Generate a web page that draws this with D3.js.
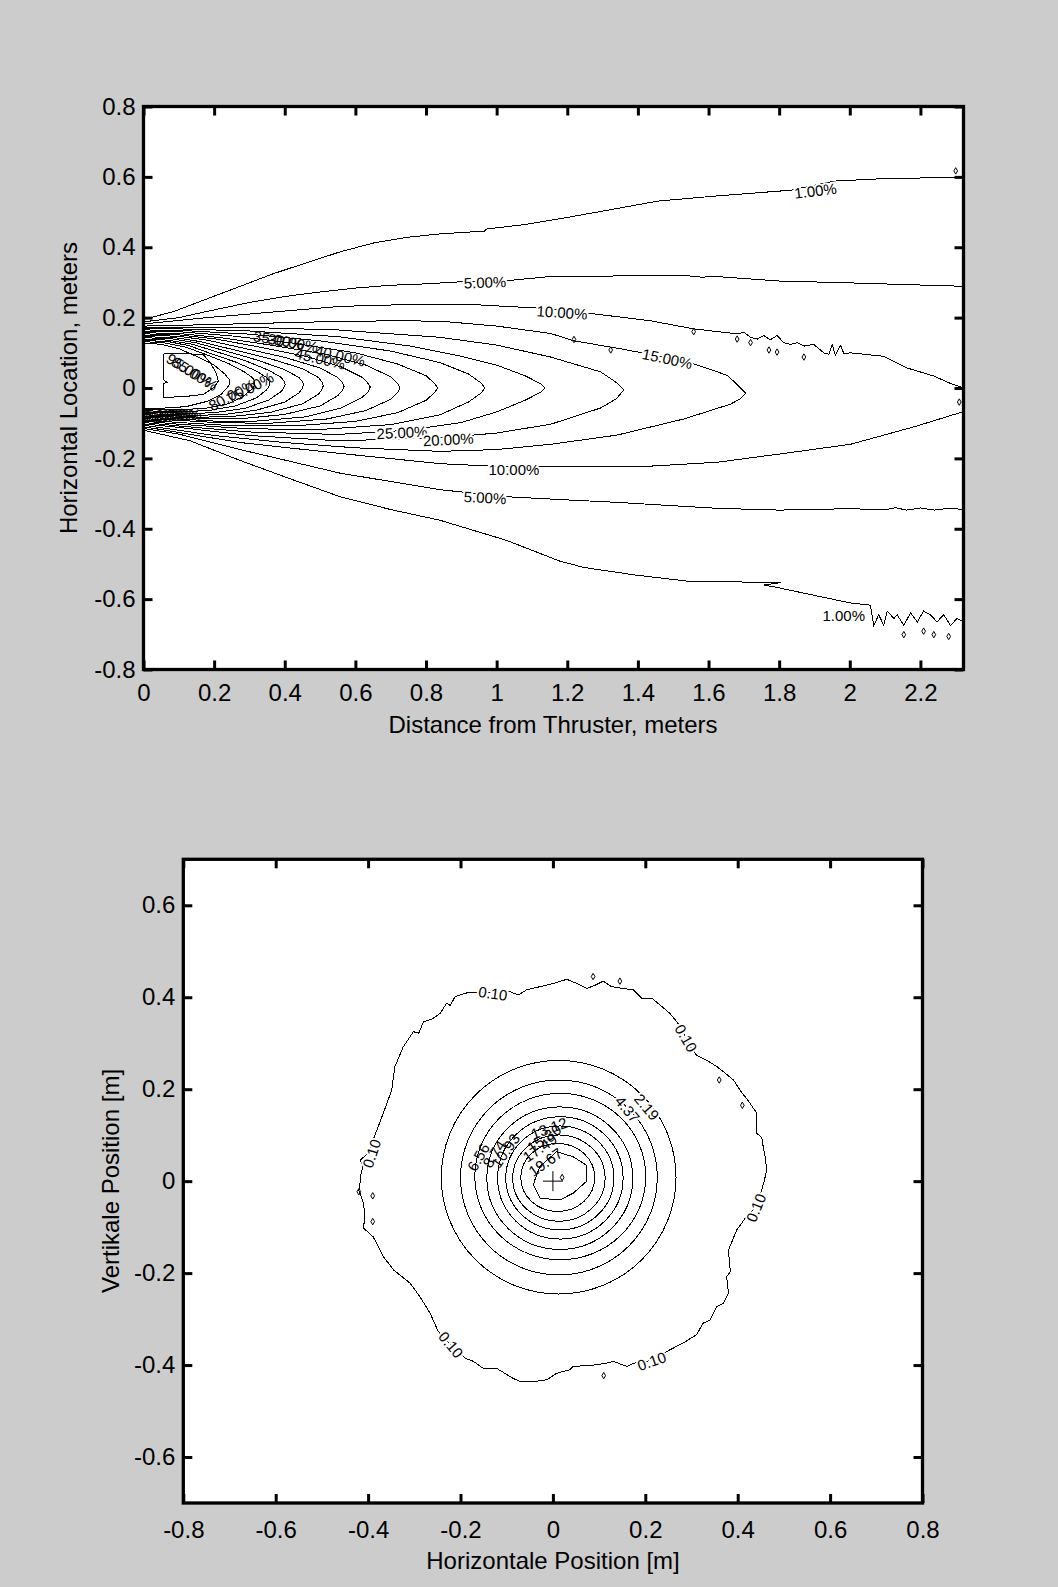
<!DOCTYPE html>
<html>
<head>
<meta charset="utf-8">
<script src="https://cdn.jsdelivr.net/npm/d3@7"></script>
<style>
  body { margin: 0; background: #cccccc; }
  svg { display: block; }
  text { font-family: "Liberation Sans", Arial, sans-serif; fill: #000; }
</style>
</head>
<body>
<svg id="fig" width="1058" height="1587"></svg>
<script>
// ---------------- Thruster plume, side view (upper panel) ----------------
// Tick values
const plumeXTicks = [0, 0.2, 0.4, 0.6, 0.8, 1, 1.2, 1.4, 1.6, 1.8, 2, 2.2];
const plumeYTicks = [-0.8, -0.6, -0.4, -0.2, 0, 0.2, 0.4, 0.6, 0.8];

// Isolines [distance, lateral offset] in metres, one array per level
const c01u = [[0,0.195],[0.085,0.217],[0.179,0.253],[0.274,0.289],[0.368,0.325],[0.462,0.356],[0.557,0.387],[0.651,0.412],[0.745,0.428],[0.840,0.438],[0.965,0.446],[0.972,0.452],[1.075,0.464],[1.179,0.481],[1.313,0.505],[1.455,0.531],[1.625,0.546],[1.832,0.562],[1.955,0.588],[2.115,0.596],[2.322,0.598]];
const c01l = [[0,-0.12],[0.132,-0.150],[0.274,-0.206],[0.415,-0.258],[0.557,-0.309],[0.698,-0.345],[0.840,-0.376],[1.028,-0.433],[1.179,-0.492],[1.247,-0.510],[1.389,-0.531],[1.549,-0.550],[1.672,-0.551],[1.804,-0.553],[1.757,-0.560],[1.79,-0.566],[1.87,-0.583],[2.002,-0.611],[2.058,-0.617],[2.068,-0.675],[2.082,-0.644],[2.096,-0.675],[2.106,-0.634],[2.125,-0.655],[2.134,-0.644],[2.153,-0.675],[2.172,-0.639],[2.191,-0.665],[2.209,-0.634],[2.228,-0.644],[2.247,-0.665],[2.266,-0.644],[2.285,-0.675],[2.304,-0.655],[2.322,-0.665]];
const c05u = [[0,0.188],[0.1,0.2],[0.2,0.222],[0.3,0.243],[0.4,0.26],[0.5,0.273],[0.6,0.284],[0.7,0.292],[0.8,0.296],[0.9,0.302],[1.03,0.305],[1.153,0.317],[1.3,0.318],[1.53,0.32],[1.58,0.315],[1.62,0.317],[1.80,0.304],[1.99,0.299],[2.322,0.289]];
const c05l = [[0,-0.115],[0.1,-0.131],[0.274,-0.175],[0.557,-0.242],[0.84,-0.289],[1.028,-0.309],[1.179,-0.317],[1.34,-0.325],[1.625,-0.342],[1.80,-0.347],[2.0,-0.343],[2.1,-0.346],[2.13,-0.340],[2.16,-0.347],[2.2,-0.341],[2.24,-0.347],[2.28,-0.342],[2.322,-0.345]];
const c10u = [[0,0.182],[0.179,0.2],[0.368,0.216],[0.557,0.232],[0.745,0.237],[0.934,0.237],[1.118,0.227],[1.257,0.213],[1.436,0.191],[1.558,0.168],[1.681,0.154],[1.700,0.158],[1.719,0.144],[1.738,0.139],[1.757,0.149],[1.775,0.137],[1.794,0.149],[1.813,0.129],[1.832,0.124],[1.851,0.129],[1.870,0.119],[1.898,0.124],[1.926,0.100],[1.941,0.096],[1.950,0.124],[1.959,0.093],[1.974,0.121],[1.983,0.098],[2.002,0.100],[2.096,0.090],[2.162,0.057],[2.238,0.034],[2.285,0.013],[2.322,0.0]];
const c10l = [[2.322,-0.067],[2.19,-0.108],[2.002,-0.160],[1.813,-0.186],[1.625,-0.211],[1.436,-0.222],[1.153,-0.222],[0.981,-0.222],[0.84,-0.215],[0.557,-0.186],[0.274,-0.155],[0.085,-0.124],[0,-0.11]];
const c15 = [[0,0.176],[0.1,0.178],[0.3,0.183],[0.5,0.188],[0.7,0.191],[0.84,0.19],[1.0,0.176],[1.153,0.155],[1.219,0.134],[1.342,0.113],[1.45,0.093],[1.549,0.072],[1.653,0.036],[1.681,0.01],[1.705,-0.015],[1.69,-0.031],[1.662,-0.046],[1.53,-0.088],[1.34,-0.134],[1.153,-0.16],[1.0,-0.175],[0.84,-0.18],[0.6,-0.17],[0.4,-0.155],[0.2,-0.135],[0.1,-0.12],[0,-0.106]];
const c20 = [[0,0.172],[0.1,0.173],[0.3,0.172],[0.55,0.165],[0.84,0.144],[1.0,0.122],[1.153,0.088],[1.294,0.046],[1.34,0.015],[1.36,-0.005],[1.34,-0.03],[1.294,-0.057],[1.153,-0.103],[1.0,-0.128],[0.84,-0.142],[0.55,-0.15],[0.3,-0.135],[0.1,-0.112],[0,-0.102]];
const c25 = [[0,0.168],[0.1,0.168],[0.3,0.162],[0.55,0.146],[0.75,0.12],[0.9,0.09],[1.0,0.065],[1.08,0.035],[1.125,0.012],[1.137,0],[1.125,-0.012],[1.08,-0.035],[1.0,-0.068],[0.9,-0.098],[0.75,-0.12],[0.55,-0.132],[0.3,-0.125],[0.1,-0.108],[0,-0.098]];
const c30 = [[0,0.165],[0.1,0.164],[0.3,0.153],[0.5,0.134],[0.7,0.105],[0.84,0.072],[0.92,0.04],[0.955,0.015],[0.967,0],[0.955,-0.015],[0.92,-0.04],[0.84,-0.076],[0.7,-0.104],[0.5,-0.118],[0.3,-0.116],[0.1,-0.103],[0,-0.094]];
const c35 = [[0,0.161],[0.1,0.16],[0.25,0.148],[0.42,0.128],[0.6,0.1],[0.72,0.068],[0.8,0.035],[0.825,0.012],[0.833,0],[0.825,-0.012],[0.8,-0.035],[0.72,-0.07],[0.6,-0.095],[0.42,-0.108],[0.25,-0.107],[0.1,-0.098],[0,-0.091]];
const c40 = [[0,0.157],[0.1,0.155],[0.22,0.143],[0.36,0.122],[0.52,0.095],[0.63,0.065],[0.7,0.032],[0.72,0.012],[0.726,0],[0.72,-0.012],[0.7,-0.032],[0.63,-0.064],[0.52,-0.088],[0.36,-0.1],[0.22,-0.099],[0.1,-0.092],[0,-0.087]];
const c45 = [[0,0.154],[0.1,0.151],[0.2,0.14],[0.32,0.118],[0.46,0.09],[0.56,0.06],[0.62,0.03],[0.637,0.012],[0.642,0.003],[0.637,-0.01],[0.62,-0.026],[0.56,-0.057],[0.46,-0.082],[0.32,-0.094],[0.2,-0.094],[0.1,-0.088],[0,-0.083]];
const c50 = [[0,0.15],[0.1,0.147],[0.18,0.136],[0.28,0.114],[0.4,0.087],[0.5,0.057],[0.55,0.03],[0.564,0.014],[0.568,0.004],[0.562,-0.008],[0.55,-0.022],[0.5,-0.051],[0.4,-0.075],[0.28,-0.087],[0.18,-0.087],[0.1,-0.083],[0,-0.08]];
const c55 = [[0,0.146],[0.09,0.143],[0.16,0.132],[0.25,0.11],[0.36,0.083],[0.45,0.055],[0.495,0.03],[0.507,0.015],[0.509,0.006],[0.504,-0.006],[0.495,-0.018],[0.45,-0.045],[0.36,-0.069],[0.25,-0.081],[0.16,-0.083],[0.09,-0.079],[0,-0.076]];
const c60 = [[0,0.143],[0.08,0.14],[0.15,0.128],[0.23,0.106],[0.32,0.08],[0.4,0.052],[0.44,0.03],[0.451,0.017],[0.453,0.008],[0.448,-0.004],[0.44,-0.014],[0.4,-0.04],[0.32,-0.063],[0.23,-0.075],[0.15,-0.078],[0.08,-0.075],[0,-0.073]];
const c65 = [[0,0.139],[0.07,0.136],[0.14,0.124],[0.21,0.102],[0.29,0.077],[0.355,0.05],[0.39,0.03],[0.399,0.018],[0.401,0.01],[0.396,-0.002],[0.39,-0.01],[0.355,-0.034],[0.29,-0.057],[0.21,-0.069],[0.14,-0.073],[0.07,-0.07],[0,-0.069]];
const c70 = [[0,0.135],[0.07,0.132],[0.13,0.12],[0.19,0.098],[0.26,0.074],[0.32,0.048],[0.348,0.03],[0.356,0.02],[0.358,0.012],[0.354,0.002],[0.348,-0.006],[0.32,-0.028],[0.26,-0.051],[0.19,-0.063],[0.13,-0.067],[0.07,-0.066],[0,-0.065]];
const c75 = [[0,0.132],[0.06,0.128],[0.12,0.116],[0.18,0.094],[0.24,0.07],[0.285,0.046],[0.308,0.03],[0.315,0.02],[0.316,0.014],[0.313,0.005],[0.308,-0.002],[0.285,-0.022],[0.24,-0.045],[0.18,-0.057],[0.12,-0.061],[0.06,-0.061],[0,-0.061]];
const c80 = [[0,0.128],[0.05,0.124],[0.1,0.112],[0.15,0.09],[0.2,0.065],[0.23,0.04],[0.242,0.025],[0.245,0.018],[0.242,0.008],[0.236,0.0],[0.22,-0.018],[0.18,-0.038],[0.12,-0.053],[0.06,-0.057],[0,-0.057]];
const c85 = [[0.057,0.098],[0.12,0.098],[0.17,0.094],[0.19,0.07],[0.205,0.045],[0.212,0.02],[0.2,0.002],[0.17,-0.018],[0.12,-0.024],[0.057,-0.027],[0.057,0.012],[0.066,0.016],[0.057,0.024],[0.057,0.098]];
const plumeLines = [c01u, c01l, c05u, c05l, c10u, c10l, c15, c20, c25, c30, c35, c40, c45, c50, c55, c60, c65, c70, c75, c80, c85];

// Isolated speckles of the noisy outer levels
const plumeSpecks = [[1.558,0.16],[1.681,0.139],[1.719,0.129],[1.771,0.108],[1.794,0.102],[1.87,0.088],[1.219,0.138],[1.323,0.108],[2.153,-0.701],[2.209,-0.691],[2.238,-0.701],[2.28,-0.706],[2.31,-0.04],[2.30,0.617]];

// Level labels [text, distance, offset]; isolated ones break the line
const plumeLabels = [["1.00%",1.903,0.560],["5.00%",0.967,0.300],["10.00%",1.185,0.214],["15.00%",1.483,0.083],["25.00%",0.732,-0.127],["20.00%",0.863,-0.147],["10.00%",1.049,-0.232],["5.00%",0.967,-0.312],["1.00%",1.983,-0.646]];
const plumeLabelTilt = [-7, -2, 4, 12, -3, -3, 0, 3, 0];
const plumeCrowded = [["35.00%",0.382,0.136],["30.00%",0.423,0.128],["45.00%",0.50,0.083],["40.00%",0.557,0.091],["95.00%",0.13,0.05],["85.00%",0.145,0.04],["80.00%",0.251,-0.02],["75.00%",0.302,-0.0],["70.00%",0.047,-0.077],["65.00%",0.062,-0.079],["60.00%",0.077,-0.077],["55.00%",0.092,-0.079]];
const plumeCrowdedTilt = [10, 10, 13, 13, 32, 32, -28, -28, -4, -4, -4, -4];

// ---------------- Beam cross-section (lower panel) ----------------
const crossXTicks = [-0.8, -0.6, -0.4, -0.2, 0, 0.2, 0.4, 0.6, 0.8];
const crossYTicks = [-0.6, -0.4, -0.2, 0, 0.2, 0.4, 0.6];

// Near-circular rings: level, centre and semi-axes in metres
const ringLevels = ["2.19", "4.37", "6.56", "8.74", "10.93", "13.12", "15.30", "17.49"];
const ringCx = [0.0125, 0.013, 0.016, 0.015, 0.016, 0.015, 0.013, 0.0105];
const ringCy = [0.0085, 0.008, 0.01, 0.0065, 0.007, 0.007, 0.0065, 0.008];
const ringRx = [0.254, 0.213, 0.185, 0.158, 0.136, 0.117, 0.100, 0.080];
const ringRy = [0.254, 0.212, 0.181, 0.155, 0.133, 0.113, 0.094, 0.074];

// Core level 19.67 and the ragged 0.10 edge
const core1967 = [[-0.039,0.003],[-0.028,0.032],[0.008,0.064],[0.044,0.053],[0.072,0.035],[0.072,-0.001],[0.044,-0.026],[0.015,-0.041],[-0.028,-0.037],[-0.042,-0.008],[-0.039,0.003]];
const edge010 = [[-0.4175,-0.005],[-0.416,0.0135],[-0.411,0.032],[-0.417,0.046],[-0.400,0.060],[-0.389,0.090],[-0.367,0.148],[-0.349,0.198],[-0.342,0.249],[-0.324,0.292],[-0.302,0.325],[-0.290,0.322],[-0.280,0.347],[-0.262,0.352],[-0.244,0.365],[-0.230,0.387],[-0.222,0.382],[-0.212,0.401],[-0.190,0.409],[-0.160,0.411],[-0.130,0.410],[-0.093,0.412],[-0.075,0.405],[-0.057,0.416],[-0.028,0.423],[0.008,0.432],[0.030,0.439],[0.052,0.430],[0.073,0.419],[0.091,0.426],[0.109,0.435],[0.127,0.423],[0.152,0.419],[0.174,0.416],[0.192,0.398],[0.214,0.398],[0.232,0.383],[0.253,0.365],[0.268,0.347],[0.280,0.328],[0.296,0.295],[0.311,0.274],[0.333,0.263],[0.355,0.249],[0.369,0.238],[0.391,0.220],[0.405,0.198],[0.427,0.169],[0.441,0.148],[0.441,0.104],[0.452,0.095],[0.456,0.070],[0.461,0.045],[0.462,0.020],[0.456,-0.005],[0.450,-0.025],[0.440,-0.055],[0.419,-0.077],[0.398,-0.106],[0.380,-0.150],[0.384,-0.197],[0.376,-0.208],[0.380,-0.244],[0.369,-0.266],[0.355,-0.273],[0.340,-0.302],[0.325,-0.309],[0.311,-0.334],[0.282,-0.352],[0.253,-0.367],[0.214,-0.39],[0.174,-0.396],[0.160,-0.403],[0.131,-0.392],[0.116,-0.396],[0.088,-0.400],[0.044,-0.403],[0.037,-0.410],[0.008,-0.418],[-0.013,-0.432],[-0.042,-0.436],[-0.071,-0.436],[-0.086,-0.429],[-0.122,-0.407],[-0.151,-0.407],[-0.172,-0.392],[-0.190,-0.385],[-0.221,-0.356],[-0.248,-0.327],[-0.266,-0.287],[-0.288,-0.251],[-0.309,-0.222],[-0.345,-0.193],[-0.367,-0.164],[-0.389,-0.121],[-0.410,-0.102],[-0.407,-0.077],[-0.410,-0.048],[-0.42,-0.02],[-0.4175,-0.005]];
const crossSpecks = [[0.087,0.445],[0.145,0.435],[0.36,0.22],[0.41,0.165],[-0.42,-0.023],[-0.39,-0.032],[-0.39,-0.088],[0.11,-0.423],[0.02,0.008]];

const crossLabels = [["0.10",-0.392,0.06],["0.10",-0.13,0.408],["0.10",0.288,0.311],["0.10",0.44,-0.058],["0.10",0.214,-0.392],["0.10",-0.221,-0.356],["2.19",0.203,0.161],["4.37",0.161,0.156]];
const crossLabelTilt = [-72, 8, 60, -68, -20, 50, 50, 50];
const crossCrowded = [["6.56",-0.161,0.052],["8.74",-0.127,0.059],["10.93",-0.102,0.066],["13.12",-0.008,0.115],["15.30",-0.019,0.093],["17.49",-0.028,0.072],["19.67",-0.016,0.041]];
const crossCrowdedTilt = [-60, -57, -55, -20, -35, -35, -35];

// ---------------- drawing ----------------
const svg = d3.select("#fig");
const fmt = d => String(+d.toFixed(1));
const FONT = "Liberation Sans, Arial, sans-serif";

const xT = d3.scaleLinear([0, 2.322], [143.5, 963.5]);
const yT = d3.scaleLinear([-0.8, 0.8], [669.5, 106.5]);
const xB = d3.scaleLinear([-0.8, 0.8], [183.3, 922.5]);
const yB = d3.scaleLinear([-0.7, 0.7], [1503, 859.3]);

function styleAxis(sel) {
  sel.select(".domain").remove();
  sel.selectAll(".tick line").attr("stroke", "#000").attr("stroke-width", 3);
  sel.selectAll(".tick text").attr("font-size", 24).attr("font-family", FONT).attr("fill", "#000");
}

function panel(id, x, y, xt, yt, xPad) {
  const [x0, x1] = x.range();
  const [yb, yt0] = y.range();
  const g = svg.append("g");
  g.append("rect").attr("x", x0).attr("y", yt0).attr("width", x1 - x0).attr("height", yb - yt0).attr("fill", "#fff");
  g.append("clipPath").attr("id", id).append("rect")
    .attr("x", x0).attr("y", yt0).attr("width", x1 - x0).attr("height", yb - yt0);
  const plot = g.append("g").attr("clip-path", `url(#${id})`);
  const axes = g.append("g");
  axes.append("g").attr("transform", `translate(0,${yb})`)
    .call(d3.axisBottom(x).tickValues(xt).tickSize(-9).tickPadding(xPad).tickFormat(fmt)).call(styleAxis);
  axes.append("g").attr("transform", `translate(0,${yt0})`)
    .call(d3.axisTop(x).tickValues(xt).tickSize(-9).tickFormat(() => "")).call(styleAxis);
  axes.append("g").attr("transform", `translate(${x0},0)`)
    .call(d3.axisLeft(y).tickValues(yt).tickSize(-9).tickPadding(8).tickFormat(fmt)).call(styleAxis);
  axes.append("g").attr("transform", `translate(${x1},0)`)
    .call(d3.axisRight(y).tickValues(yt).tickSize(-9).tickFormat(() => "")).call(styleAxis);
  axes.append("rect").attr("x", x0).attr("y", yt0).attr("width", x1 - x0).attr("height", yb - yt0)
    .attr("fill", "none").attr("stroke", "#000").attr("stroke-width", 3.3);
  return plot;
}

function labels(plot, x, y, data, tilt, halo) {
  plot.append("g").selectAll("text").data(data).join("text")
    .attr("transform", (d, i) => `translate(${x(d[1])},${y(d[2])}) rotate(${tilt[i]})`)
    .attr("text-anchor", "middle").attr("dy", "0.35em")
    .attr("font-size", 15).attr("font-family", FONT)
    .attr("stroke", halo ? "#fff" : "none").attr("stroke-width", halo ? 4 : 0)
    .attr("paint-order", "stroke")
    .text(d => d[0]);
}

function specks(plot, x, y, data) {
  plot.append("g").selectAll("path").data(data).join("path")
    .attr("transform", d => `translate(${x(d[0])},${y(d[1])})`)
    .attr("d", d3.symbol(d3.symbolDiamond, 12))
    .attr("fill", "none").attr("stroke", "#000").attr("stroke-width", 1);
}

// upper panel
const plumePlot = panel("clipTop", xT, yT, plumeXTicks, plumeYTicks, 14);
const lineT = d3.line().x(d => xT(d[0])).y(d => yT(d[1]));
plumePlot.append("g").selectAll("path").data(plumeLines).join("path")
  .attr("d", lineT).attr("fill", "none").attr("stroke", "#000").attr("stroke-width", 1)
  .attr("shape-rendering", "crispEdges");
specks(plumePlot, xT, yT, plumeSpecks);
labels(plumePlot, xT, yT, plumeLabels, plumeLabelTilt, true);
labels(plumePlot, xT, yT, plumeCrowded, plumeCrowdedTilt, false);

// lower panel
const crossPlot = panel("clipBot", xB, yB, crossXTicks, crossYTicks, 18);
const lineB = d3.line().x(d => xB(d[0])).y(d => yB(d[1]));
crossPlot.append("g").selectAll("ellipse").data(ringLevels).join("ellipse")
  .attr("cx", (d, i) => xB(ringCx[i])).attr("cy", (d, i) => yB(ringCy[i]))
  .attr("rx", (d, i) => xB(ringCx[i] + ringRx[i]) - xB(ringCx[i]))
  .attr("ry", (d, i) => yB(ringCy[i] - ringRy[i]) - yB(ringCy[i]))
  .attr("fill", "none").attr("stroke", "#000").attr("stroke-width", 1)
  .attr("shape-rendering", "crispEdges");
crossPlot.append("g").selectAll("path").data([core1967, edge010]).join("path")
  .attr("d", lineB).attr("fill", "none").attr("stroke", "#000").attr("stroke-width", 1)
  .attr("shape-rendering", "crispEdges");
specks(crossPlot, xB, yB, crossSpecks);
labels(crossPlot, xB, yB, crossLabels, crossLabelTilt, true);
labels(crossPlot, xB, yB, crossCrowded, crossCrowdedTilt, false);
// beam axis marker
crossPlot.append("path")
  .attr("d", `M${xB(0) - 10},${yB(0)}H${xB(0) + 10}M${xB(0)},${yB(0) - 10}V${yB(0) + 10}`)
  .attr("stroke", "#000").attr("stroke-width", 1);

// axis titles
const titles = [
  ["Distance from Thruster, meters", 553, 733, 0],
  ["Horizontal Location, meters", 69, 388, -90],
  ["Horizontale Position [m]", 553, 1569, 0],
  ["Vertikale Position [m]", 111, 1181, -90]
];
svg.append("g").selectAll("text").data(titles).join("text")
  .attr("transform", d => `translate(${d[1]},${d[2]}) rotate(${d[3]})`)
  .attr("text-anchor", "middle")
  .attr("dy", d => d[3] ? "0.35em" : 0)
  .attr("font-size", 24).attr("font-family", FONT)
  .text(d => d[0]);
</script>
</body>
</html>
